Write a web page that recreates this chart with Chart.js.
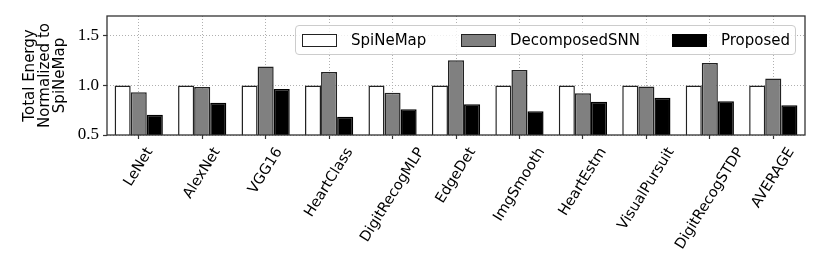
<!DOCTYPE html>
<html>
<head>
<meta charset="utf-8">
<script src="https://cdn.jsdelivr.net/npm/chart.js@4/dist/chart.umd.min.js"></script>
<style>
  html, body { margin: 0; padding: 0; background: #fff; }
  #wrap { position: relative; width: 822px; height: 274px; }
  #legend { position: absolute; box-sizing: border-box; border: 1px solid #cccccc; border-radius: 4px;
            background: rgba(255,255,255,0.8); font-family: "DejaVu Sans", sans-serif; font-size: 15px; color: #000; }
  .item { position: absolute; top: 0; height: 100%; display: flex; align-items: center; white-space: nowrap; }
  .sw { width: 35px; height: 13px; box-sizing: border-box; border: 1.5px solid #222; margin-right: 14px; }
</style>
</head>
<body>
<div id="wrap">
  <canvas id="c" width="822" height="274"></canvas>
  <div id="legend"></div>
</div>
<script>
const categories = ['LeNet','AlexNet','VGG16','HeartClass','DigitRecogMLP','EdgeDet','ImgSmooth','HeartEstm','VisualPursuit','DigitRecogSTDP','AVERAGE'];
const seriesNames = ['SpiNeMap','DecomposedSNN','Proposed'];
const spinemap   = [1.00, 1.00, 1.00, 1.00, 1.00, 1.00, 1.00, 1.00, 1.00, 1.00, 1.00];
const decomposed = [0.93, 0.985, 1.19, 1.135, 0.925, 1.255, 1.155, 0.92, 0.99, 1.225, 1.07];
const proposed   = [0.705, 0.825, 0.965, 0.685, 0.76, 0.81, 0.74, 0.835, 0.875, 0.84, 0.80];
const yTicks = [0.5, 1.0, 1.5];
const yTitle = ['Total Energy', 'Normalized to', 'SpiNeMap'];

const fills = ['#ffffff', '#808080', '#000000'];
const edges = ['#222222', '#222222', '#000000'];

const frame = {
  id: 'frame',
  afterDraw(chart) {
    const {ctx, chartArea: a} = chart;
    ctx.save();
    ctx.strokeStyle = '#333';
    ctx.lineWidth = 1.3;
    ctx.strokeRect(a.left, a.top, a.right - a.left, a.bottom - a.top);
    ctx.restore();
  }
};

const xLabels = {
  id: 'xLabels',
  afterDraw(chart) {
    const {ctx} = chart;
    const sc = chart.scales.x;
    const th = 58 * Math.PI / 180;
    const size = 14.5;
    const h = size * 0.85;
    const topY = chart.chartArea.bottom + 11;
    ctx.save();
    ctx.font = size + 'px "DejaVu Sans"';
    ctx.fillStyle = '#000';
    ctx.textAlign = 'center';
    ctx.textBaseline = 'middle';
    chart.data.labels.forEach((lab, i) => {
      const w = ctx.measureText(lab).width;
      const cx = sc.getPixelForTick(i);
      const cy = topY + (w * Math.sin(th) + h * Math.cos(th)) / 2;
      ctx.save();
      ctx.translate(cx, cy);
      ctx.rotate(-th);
      ctx.fillText(lab, 0, 0);
      ctx.restore();
    });
    ctx.restore();
  }
};

const chart = new Chart(document.getElementById('c'), {
  type: 'bar',
  data: {
    labels: categories,
    datasets: [spinemap, decomposed, proposed].map((d, i) => ({
      label: seriesNames[i],
      data: d,
      backgroundColor: fills[i],
      borderColor: edges[i],
      borderWidth: 1.5,
      categoryPercentage: 0.76,
      barPercentage: 1.0
    }))
  },
  options: {
    responsive: false,
    animation: false,
    layout: { padding: { top: 16, right: 17, left: 0, bottom: 0 } },
    plugins: { legend: { display: false }, tooltip: { enabled: false } },
    scales: {
      x: {
        z: 1,
        offset: true,
        grid: { offset: false, color: '#b0b0b0', lineWidth: 1, tickLength: 4, tickColor: '#333', tickWidth: 1.2, tickBorderDash: [] },
        border: { display: false, dash: [1, 2] },
        ticks: { display: false },
        afterFit(s) { s.height = 139; }
      },
      y: {
        z: 1,
        min: 0.5,
        max: 1.7,
        afterBuildTicks(s) { s.ticks = yTicks.map(v => ({ value: v })); },
        grid: { color: '#b0b0b0', lineWidth: 1, tickLength: 4, tickColor: '#333', tickWidth: 1.2, tickBorderDash: [] },
        border: { display: false, dash: [1, 2] },
        ticks: {
          color: '#000',
          padding: 4,
          font: { family: '"Liberation Serif"', size: 17 },
          callback: v => Number(v).toFixed(1)
        },
        title: {
          display: true,
          text: yTitle,
          color: '#000',
          font: { family: '"DejaVu Sans"', size: 15, lineHeight: '15px' },
          padding: { top: 23, bottom: 0 }
        },
        afterFit(s) { s.width = 107; }
      }
    }
  },
  plugins: [frame, xLabels]
});

// HTML legend built from datasets
(function buildLegend() {
  const a = chart.chartArea;
  const lg = document.getElementById('legend');
  lg.style.left = (a.left + 188) + 'px';
  lg.style.top = (a.top + 9) + 'px';
  lg.style.width = (a.right - 9 - (a.left + 188)) + 'px';
  lg.style.height = '30px';
  const offs = [6, 165, 376];
  chart.data.datasets.forEach((ds, i) => {
    const it = document.createElement('div');
    it.className = 'item';
    it.style.left = offs[i] + 'px';
    const sw = document.createElement('span');
    sw.className = 'sw';
    sw.style.background = ds.backgroundColor;
    sw.style.borderColor = ds.borderColor;
    const tx = document.createElement('span');
    tx.textContent = ds.label;
    it.appendChild(sw); it.appendChild(tx);
    lg.appendChild(it);
  });
})();
</script>
</body>
</html>
